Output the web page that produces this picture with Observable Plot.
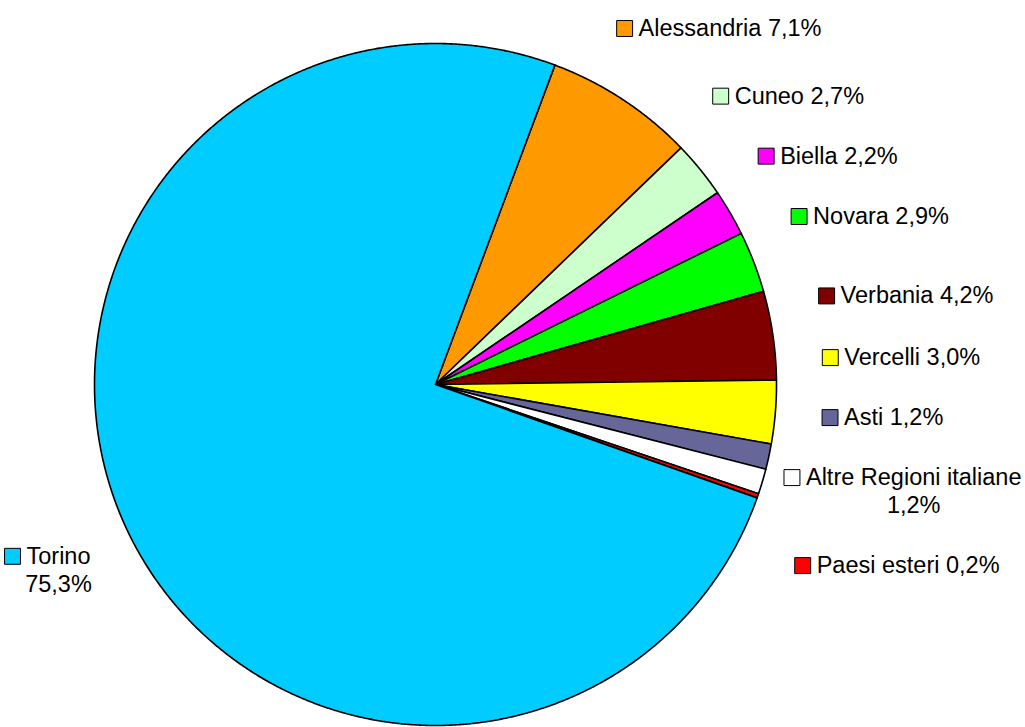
<!DOCTYPE html>
<html><head><meta charset="utf-8">
<script src="https://cdn.jsdelivr.net/npm/d3@7"></script>
<script src="https://cdn.jsdelivr.net/npm/@observablehq/plot@0.6"></script>
<style>
html,body{margin:0;padding:0;background:#fff;}
#chart{width:1025px;height:727px;overflow:hidden;}
</style>
</head><body><div id="chart"></div>
<script>
// ---- data (clockwise order, starting from Alessandria) ----
const categories = ["Alessandria","Cuneo","Biella","Novara","Verbania","Vercelli","Asti","Altre Regioni italiane","Paesi esteri","Torino"];
const shares = [7.1, 2.7, 2.2, 2.9, 4.2, 3.0, 1.2, 1.2, 0.2, 75.3];
const colors = ["#FF9900","#CCFFCC","#FF00FF","#00FF00","#800000","#FFFF00","#666699","#FFFFFF","#FF0000","#00CCFF"];

// ---- layout ----
const W = 1025, H = 727;
const cx = 435, cy = 384, R = 341;
const startAngle = 20.5;          // degrees clockwise from 12 o'clock
const FONT_SIZE = 23.5, LINE_H = 28;
const FONT = `${FONT_SIZE}px 'Liberation Sans', Arial, sans-serif`;
const KEY_GAP = 22;               // key square + gap before text
const D0 = 46;                    // label distance beyond the pie edge
const EDGE_GAP = 32;              // minimum vertical gap between label boxes
const rad = d => d * Math.PI / 180;

const total = d3.sum(shares);
let acc = startAngle;
const slices = categories.map((name, i) => {
  const a0 = acc, a1 = acc + shares[i] / total * 360;
  acc = a1;
  return {name, share: shares[i], color: colors[i], a0, a1, mid: (a0 + a1) / 2};
});

// slice polygons (data units = pixels from centre, y up)
const polyPts = [];
for (const s of slices) {
  polyPts.push({name: s.name, x: 0, y: 0});
  const n = Math.max(2, Math.ceil((s.a1 - s.a0) / 0.25));
  for (let k = 0; k <= n; k++) {
    const a = rad(s.a0 + (s.a1 - s.a0) * k / n);
    polyPts.push({name: s.name, x: R * Math.sin(a), y: R * Math.cos(a)});
  }
  polyPts.push({name: s.name, x: 0, y: 0});
}

// ---- labels (pixel offsets from centre, y down) ----
const ctx = document.createElement("canvas").getContext("2d");
ctx.font = FONT;
const tw = s => ctx.measureText(s).width;
const fmt = v => v.toFixed(1).replace(".", ",") + "%";
const xMin = -cx + 4, xMax = W - cx - 4;

function naturalBox(m, lines) {
  const widths = lines.map(tw);
  const w = KEY_GAP + d3.max(widths), h = lines.length * LINE_H;
  const sx = Math.sin(rad(m)), sy = -Math.cos(rad(m));
  const d = R + D0 + Math.abs(sx) * w / 2 + Math.abs(sy) * h / 2;
  return {X: d * sx, Y: d * sy, w, h, widths};
}

const labels = slices.map(s => {
  const m = ((s.mid % 360) + 360) % 360;
  const right = m < 180;
  let lines = [`${s.name} ${fmt(s.share)}`];
  let b = naturalBox(m, lines);
  if (b.X + b.w / 2 > xMax || b.X - b.w / 2 < xMin) {
    lines = [s.name, fmt(s.share)];
    b = naturalBox(m, lines);
  }
  return {s, right, lines, ...b, ny: b.Y};
});

function spread(items) {
  items.sort((a, b) => a.ny - b.ny);
  const gap = (a, b) => (a.h + b.h) / 2 + EDGE_GAP;
  // (1) clusters centred on their natural span
  const groups = [];
  const pos = g => { const v = g.items.map((d, i) => d.ny - g.off[i]); return (d3.min(v) + d3.max(v)) / 2; };
  for (const it of items) {
    groups.push({items: [it], off: [0]});
    while (groups.length > 1) {
      const b = groups[groups.length - 1], a = groups[groups.length - 2];
      const aLast = a.items[a.items.length - 1];
      const aLastY = pos(a) + a.off[a.off.length - 1];
      const need = gap(aLast, b.items[0]);
      if (pos(b) - aLastY >= need) break;
      const base = a.off[a.off.length - 1] + need;
      a.items.push(...b.items);
      a.off.push(...b.off.map(o => o + base));
      groups.pop();
    }
  }
  const yCluster = new Map();
  for (const g of groups) { const p = pos(g); g.items.forEach((d, i) => yCluster.set(d, p + g.off[i])); }
  // (2) labels pushed upward from the lowest one
  const yPush = new Map();
  for (let i = items.length - 1; i >= 0; i--) {
    const d = items[i];
    yPush.set(d, i === items.length - 1 ? d.ny : Math.min(d.ny, yPush.get(items[i + 1]) - gap(d, items[i + 1])));
  }
  items.forEach(d => d.Y = (yCluster.get(d) + yPush.get(d)) / 2);
  // keep inside the frame (top), then re-resolve downward
  const minY = -cy + 14;
  items.forEach((d, i) => {
    if (i === 0) d.Y = Math.max(d.Y, minY + d.h / 2);
    else d.Y = Math.max(d.Y, items[i - 1].Y + gap(items[i - 1], d));
  });
  // keep each box clear of the pie, and inside the frame horizontally
  for (const d of items) {
    const top = d.Y - d.h / 2, bot = d.Y + d.h / 2;
    const yc = bot < 0 ? bot : top > 0 ? top : 0;
    const need = Math.sqrt(Math.max(0, (R + D0) ** 2 - yc * yc));
    if (d.right) d.X = Math.max(d.X, need + d.w / 2);
    else d.X = Math.min(d.X, -need - d.w / 2);
    d.X = Math.min(Math.max(d.X, xMin + d.w / 2), xMax - d.w / 2);
  }
}
spread(labels.filter(d => d.right));
spread(labels.filter(d => !d.right));

const keys = [], texts = [];
for (const L of labels) {
  const left = L.X - L.w / 2;
  const y1 = L.Y - (L.lines.length - 1) * LINE_H / 2;
  const start = left + KEY_GAP;
  keys.push({x: left + 8, y: -y1, color: L.s.color});
  texts.push({x: start, y: -y1, text: L.lines[0], anchor: "start"});
  if (L.lines.length > 1) texts.push({x: start + L.widths[0] / 2, y: -(y1 + LINE_H), text: L.lines[1], anchor: "middle"});
}

const chart = Plot.plot({
  width: W, height: H,
  margin: 0,
  x: {domain: [-cx, W - cx], range: [0, W], axis: null},
  y: {domain: [-(H - cy), cy], range: [H, 0], axis: null},
  color: {domain: categories, range: colors},
  style: {fontFamily: "'Liberation Sans', Arial, sans-serif", background: "#fff", overflow: "hidden"},
  marks: [
    Plot.line(polyPts, {x: "x", y: "y", z: "name", fill: "name", stroke: "#000", strokeWidth: 1.6, strokeLinejoin: "round"}),
    Plot.dot(keys, {x: "x", y: "y", symbol: "square", r: 9, fill: d => d.color, stroke: "#000", strokeWidth: 1}),
    Plot.text(texts.filter(d => d.anchor === "start"), {x: "x", y: "y", text: "text", textAnchor: "start", fontSize: FONT_SIZE, fill: "#000"}),
    Plot.text(texts.filter(d => d.anchor === "middle"), {x: "x", y: "y", text: "text", textAnchor: "middle", fontSize: FONT_SIZE, fill: "#000"})
  ]
});
document.getElementById("chart").appendChild(chart);
</script>
</body></html>
